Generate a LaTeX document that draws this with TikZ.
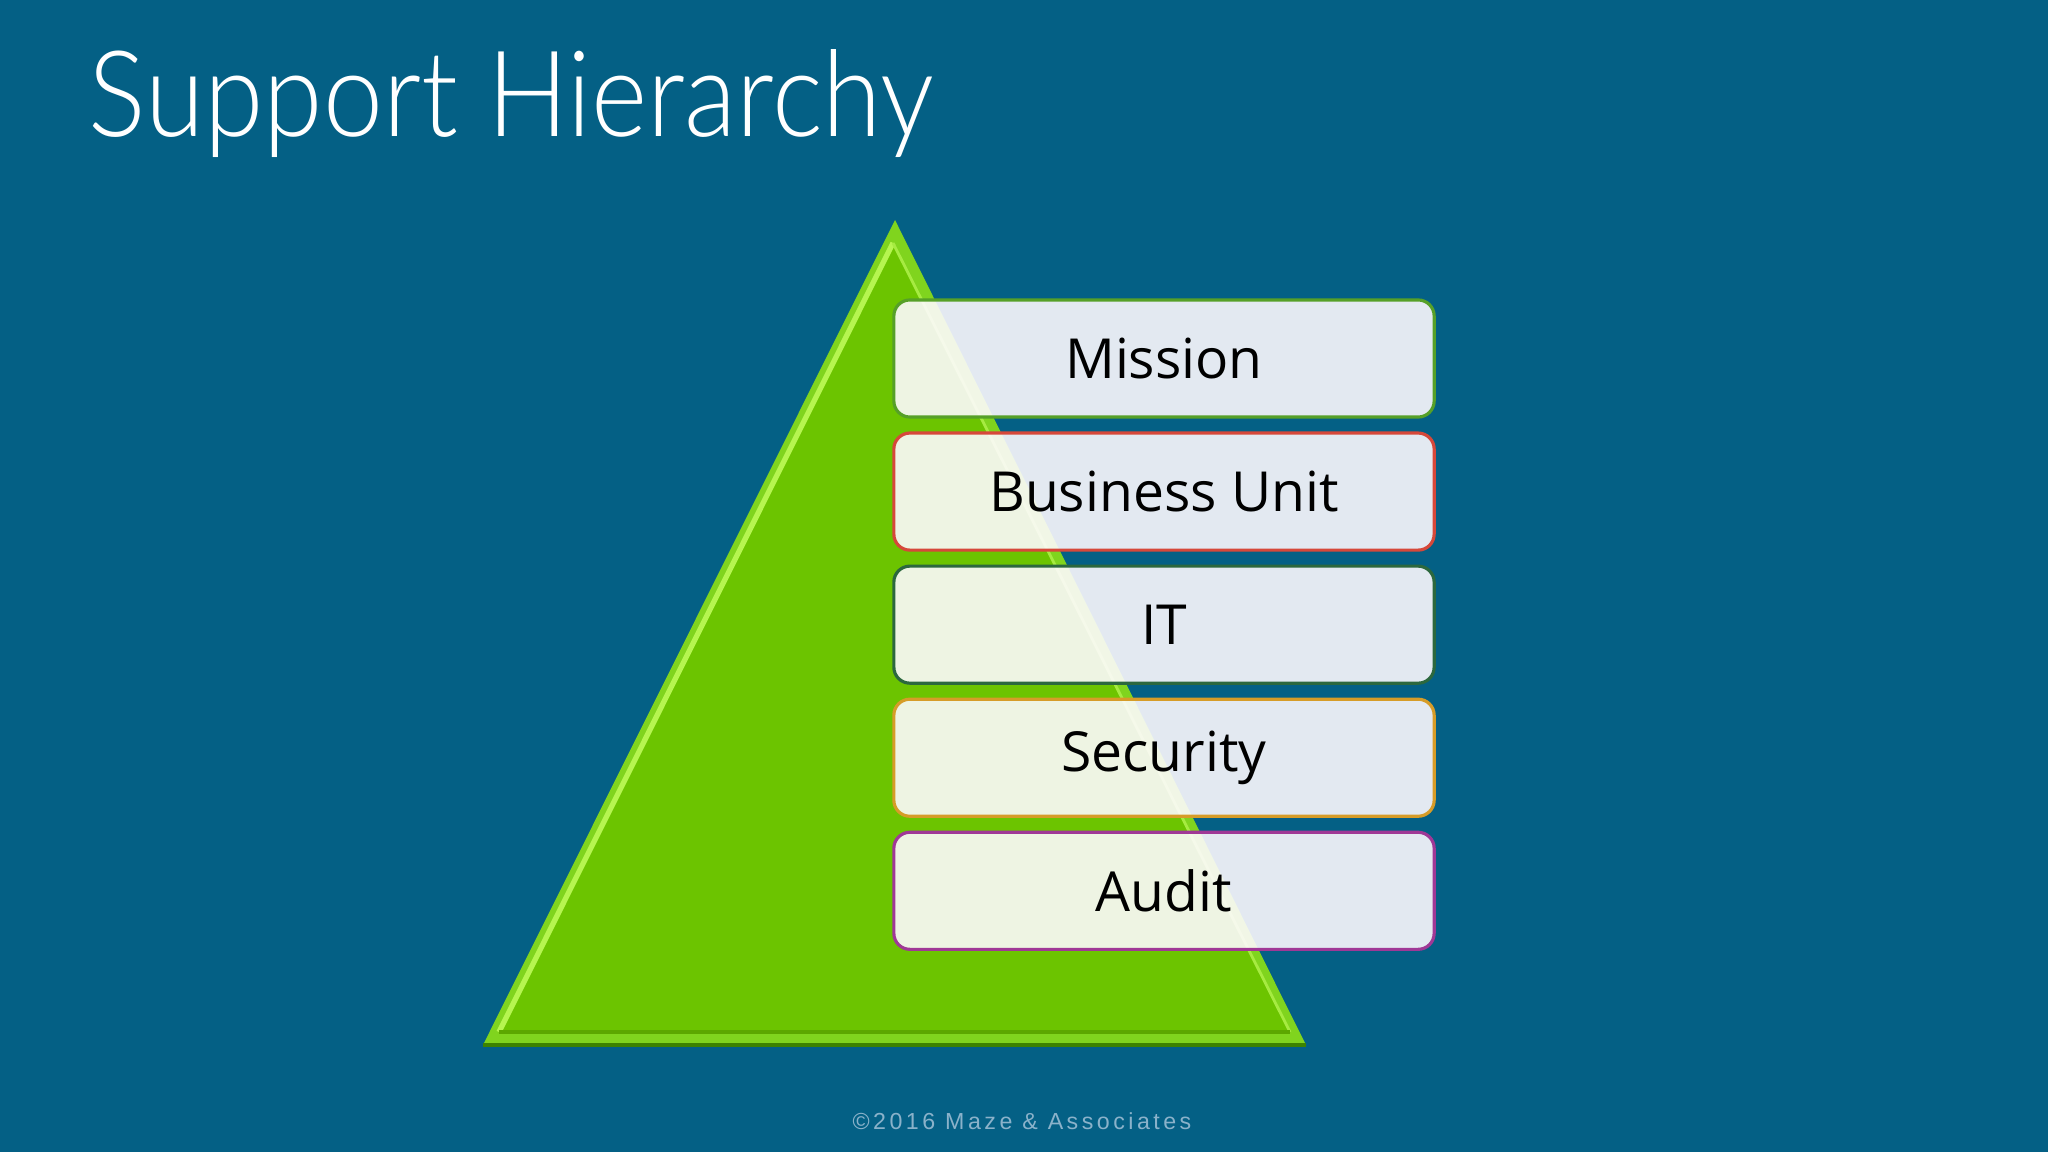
\documentclass[tikz,border=0pt]{standalone}
\usepackage{fontspec}
\setmainfont{Open Sans}
\newfontfamily\titlefont{Lato Light}[FakeStretch=0.9]
\newfontfamily\footfont{Liberation Sans}[LetterSpace=15]
\usepackage{xcolor}
\usetikzlibrary{positioning,calc}

\definecolor{slidebg}{RGB}{4,96,133}
\definecolor{pyrgreen}{RGB}{108,196,0}
\definecolor{pyrbevel}{RGB}{128,212,30}
\definecolor{pyrlight}{RGB}{182,245,80}
\definecolor{pyrdark}{RGB}{60,130,0}
\definecolor{tierfill}{RGB}{255,251,255}
\definecolor{footgray}{RGB}{138,178,202}

\tikzset{
  tier/.style={draw, rounded corners=16pt*0.2845, line width=0.9pt,
    fill=tierfill, fill opacity=0.89, text opacity=1, outer sep=0pt,
    minimum width=5.4cm, minimum height=1.17cm, inner sep=0pt,
    font=\fontsize{15.7}{19}\selectfont, text=black},
}

\begin{document}
\begin{tikzpicture}[x=0.01cm, y=-0.01cm]
    % background
    \useasboundingbox (0,0) rectangle (2048,1152);
    \fill[slidebg] (0,0) rectangle (2048,1152);

    % Title
    \node[anchor=base west, inner sep=0pt, text=white,
      font=\titlefont\fontsize{34}{40}\selectfont] (title) at (88,137) {Support Hierarchy};

    % Pyramid with bevel
    \coordinate (apex) at (895,220);
    \coordinate (baseL) at (483,1045);
    \coordinate (baseR) at (1306,1045);
    \fill[pyrbevel] (apex) -- (baseL) -- (baseR) -- cycle;
    \fill[pyrgreen] (893,243) -- (499,1032) -- (1290,1032) -- cycle;
    \draw[pyrlight, line width=1.5pt] (893,243) -- (499,1032);
    \draw[pyrlight!70!pyrbevel, line width=0.8pt] (893,243) -- (1290,1032);
    \draw[pyrgreen!85!black, line width=1pt] (499,1032) -- (1290,1032);
    \draw[pyrdark, line width=1pt] (baseL) -- (baseR);

    % Tiers
    \node[tier, draw={rgb,255:red,86;green,160;blue,40}] (mission) at (1164,358.5) {Mission};
    \node[tier, draw={rgb,255:red,214;green,72;blue,58}, below=16pt*0.2845 of mission] (unit) {Business Unit};
    \node[tier, draw={rgb,255:red,44;green,104;blue,62}, below=16pt*0.2845 of unit] (it) {IT};
    \node[tier, draw={rgb,255:red,214;green,156;blue,40}, below=16pt*0.2845 of it] (security) {Security};
    \node[tier, draw={rgb,255:red,160;green,56;blue,150}, below=16pt*0.2845 of security] (audit) {Audit};

    % Footer
    \node[text=footgray, font=\footfont\fontsize{6.6}{8}\selectfont, anchor=base] (copy) at (1022,1129) {©2016 Maze \& Associates};
\end{tikzpicture}
\end{document}
